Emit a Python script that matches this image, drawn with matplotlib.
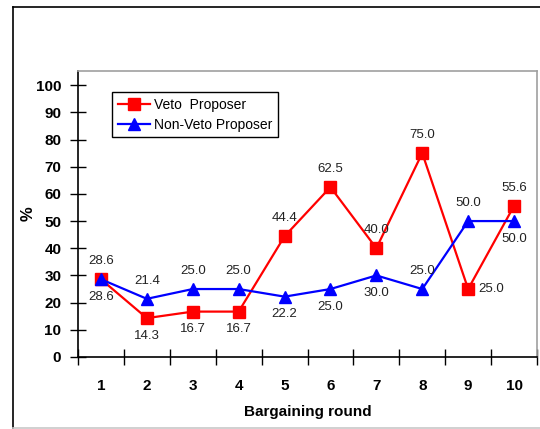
import matplotlib
matplotlib.use("Agg")
import matplotlib.pyplot as plt
from matplotlib.lines import Line2D

rounds = [1, 2, 3, 4, 5, 6, 7, 8, 9, 10]
veto = [28.6, 14.3, 16.7, 16.7, 44.4, 62.5, 40.0, 75.0, 25.0, 55.6]
nonVeto = [28.6, 21.4, 25.0, 25.0, 22.2, 25.0, 30.0, 25.0, 50.0, 50.0]
# where each data label sits relative to its marker
vetoPos = ["above", "below", "below", "below", "above", "above", "above", "above", "right", "above"]
nonVetoPos = ["below", "above", "above", "above", "below", "below", "below", "above", "above", "below"]

plt.rcParams['font.family'] = ['Liberation Sans', 'DejaVu Sans']

fig = plt.figure(figsize=(5.4, 4.29), dpi=100)
W, H = 540.0, 429.0
ax = fig.add_axes([78 / W, 1 - 357 / H, (537 - 78) / W, (357 - 71) / H])

# outer chart frame
fig.add_artist(Line2D([12.5 / W, 12.5 / W], [1 - 427.5 / H, 1 - 6.5 / H], color="black", lw=1.2))
fig.add_artist(Line2D([12.5 / W, 1.0], [1 - 6.5 / H, 1 - 6.5 / H], color="black", lw=1.2))
fig.add_artist(Line2D([12.5 / W, 1.0], [1 - 427.5 / H, 1 - 427.5 / H], color="#c8c8c8", lw=1.2))

x = list(range(len(rounds)))
ax.plot(x, veto, color="#ff0000", lw=1.6, marker="s", markersize=8, label="Veto  Proposer", zorder=3)
ax.plot(x, nonVeto, color="#0000ff", lw=1.6, marker="^", markersize=9, label="Non-Veto Proposer", zorder=4)

def addLabels(values, positions):
    for i, (v, p) in enumerate(zip(values, positions)):
        if p == "above":
            off, ha, va = (0, 8.5), "center", "bottom"
        elif p == "below":
            off, ha, va = (0, -8.5), "center", "top"
        else:
            off, ha, va = (7, 0), "left", "center"
        ax.annotate("%.1f" % v, (i, v), xytext=off, textcoords="offset points",
                    ha=ha, va=va, fontsize=9.5, color="#222222", zorder=5)

addLabels(veto, vetoPos)
addLabels(nonVeto, nonVetoPos)

ax.set_xlim(-0.5, len(rounds) - 0.5)
ax.set_ylim(0, 105.2)
ax.set_yticks(range(0, 101, 10))
ax.set_xticks([i - 0.5 for i in range(len(rounds) + 1)])
ax.set_xticklabels([])
ax.set_xticks(x, minor=True)
ax.set_xticklabels([str(r) for r in rounds], minor=True, fontsize=11, fontweight="bold")
ax.tick_params(axis="x", which="major", direction="inout", length=12, width=1)
ax.tick_params(axis="x", which="minor", length=0, pad=15.5)
ax.tick_params(axis="y", direction="inout", length=12, width=1, pad=6, labelsize=11)
for t in ax.get_yticklabels():
    t.set_fontweight("bold")

ax.spines["left"].set_color("black")
ax.spines["bottom"].set_color("black")
ax.spines["top"].set_color("#a0a0a0")
ax.spines["right"].set_color("#a0a0a0")
for s in ax.spines.values():
    s.set_linewidth(1.2)

ax.set_ylabel("%", fontsize=12, fontweight="bold", va="center", ha="center")
ax.yaxis.set_label_coords((28 - 78) / 459, 0.5)
ax.set_xlabel("Bargaining round", fontsize=11, fontweight="bold", va="center", ha="center")
ax.xaxis.set_label_coords(0.5, (357 - 412) / 286)

leg = ax.legend(loc="upper left", bbox_to_anchor=(34 / 459, 1 - 21 / 286), fontsize=10,
                frameon=True, fancybox=False, edgecolor="black", framealpha=1,
                handlelength=2.3, handletextpad=0.3, borderpad=0.4, labelspacing=0.45,
                borderaxespad=0)
leg.get_frame().set_linewidth(1.0)

fig.savefig("out.png", dpi=100)
